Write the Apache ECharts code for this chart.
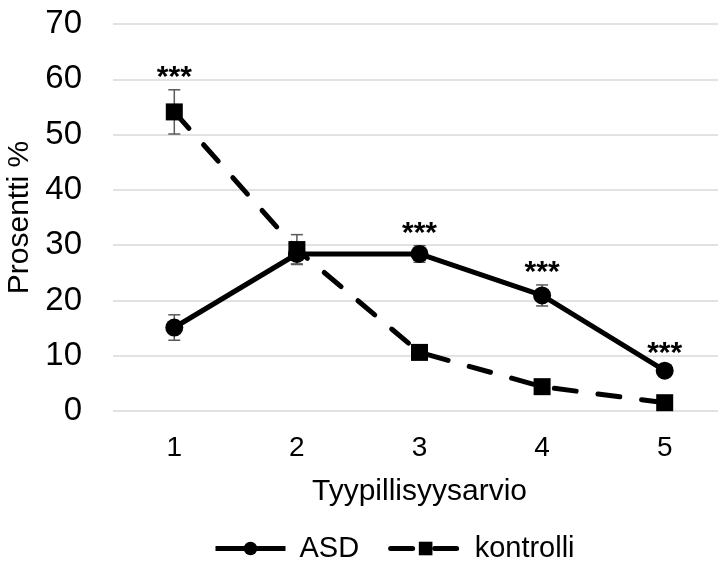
<!DOCTYPE html>
<html><head><meta charset="utf-8">
<script src="https://cdn.jsdelivr.net/npm/echarts@6/dist/echarts.min.js"></script>
<style>html,body{margin:0;padding:0;background:#fff}#c{width:718px;height:563px}</style>
</head><body><div id="c"></div>
<script>
const categories = ['1','2','3','4','5'];
const asdValues = [15.1, 28.4, 28.4, 20.9, 7.3];
const asdErrors = [2.3, 1.8, 1.5, 1.9, 0.8];
const kontrolliValues = [54.1, 29.2, 10.6, 4.4, 1.5];
const kontrolliErrors = [4.0, 2.7, 0.8, 0.6, 0.5];
const significance = ['***', '', '***', '***', '***'];
const yTicks = [0, 10, 20, 30, 40, 50, 60, 70];

const font = 'Liberation Sans, Arial, sans-serif';
const chart = echarts.init(document.getElementById('c'));

function errData(vals, errs){ return vals.map((v,i)=>[i, v-errs[i], v+errs[i]]); }
function errRender(params, api){
  const x = api.value(0);
  const lo = api.coord([x, api.value(1)]);
  const hi = api.coord([x, api.value(2)]);
  const w = 6;
  const st = {stroke:'#595959', lineWidth:1.5};
  return {type:'group', children:[
    {type:'line', shape:{x1:hi[0],y1:hi[1],x2:lo[0],y2:lo[1]}, style:st},
    {type:'line', shape:{x1:hi[0]-w,y1:hi[1],x2:hi[0]+w,y2:hi[1]}, style:st},
    {type:'line', shape:{x1:lo[0]-w,y1:lo[1],x2:lo[0]+w,y2:lo[1]}, style:st}
  ]};
}
// asterisk anchor: top of the highest error bar at each category
const sigData = categories.map((c,i)=>[i, Math.max(asdValues[i]+asdErrors[i], kontrolliValues[i]+kontrolliErrors[i])]);

chart.setOption({
  animation:false,
  textStyle:{fontFamily:font},
  grid:{left:113, right:-8, top:24, bottom:152, outerBoundsMode:'none', containLabel:false},
  legend:{
    bottom:-5, left:208, itemWidth:70, itemHeight:17, itemGap:29,
    data:['ASD','kontrolli'],
    lineStyle:{width:5},
    textStyle:{fontSize:29, color:'#000', fontFamily:font, padding:[0,0,0,9]}
  },
  xAxis:{
    type:'category', data:categories, boundaryGap:true,
    axisLine:{show:false}, axisTick:{show:false},
    axisLabel:{fontSize:28, color:'#000', margin:23, fontFamily:font},
    name:'Tyypillisyysarvio', nameLocation:'middle', nameGap:66,
    nameTextStyle:{fontSize:30, color:'#000', fontFamily:font}
  },
  yAxis:{
    type:'value', min:yTicks[0], max:yTicks[yTicks.length-1], interval:10,
    axisLine:{show:false}, axisTick:{show:false},
    axisLabel:{fontSize:33, color:'#000', margin:31, fontFamily:font},
    splitLine:{lineStyle:{color:'#d9d9d9', width:1.5}},
    name:'Prosentti %', nameLocation:'middle', nameGap:77,
    nameTextStyle:{fontSize:30, color:'#000', fontFamily:font}
  },
  series:[
    {type:'custom', renderItem:errRender, data:errData(asdValues, asdErrors), z:1, silent:true},
    {type:'custom', renderItem:errRender, data:errData(kontrolliValues, kontrolliErrors), z:1, silent:true},
    {name:'ASD', type:'line', data:asdValues, symbol:'circle', symbolSize:18,
     itemStyle:{color:'#000'}, lineStyle:{color:'#000', width:5}, z:3},
    {name:'kontrolli', type:'line', data:kontrolliValues, symbol:'rect', symbolSize:17,
     itemStyle:{color:'#000'}, lineStyle:{color:'#000', width:5, type:[22,22], cap:'round'}, z:4},
    {type:'custom', silent:true, z:5, data:sigData,
     renderItem:function(params, api){
       const p = api.coord([api.value(0), api.value(1)]);
       return {type:'text', style:{text:significance[params.dataIndex], x:p[0], y:p[1]-12,
         align:'center', verticalAlign:'middle', font:'bold 30px '+font, fill:'#000'}};
     }}
  ]
});
</script></body></html>
